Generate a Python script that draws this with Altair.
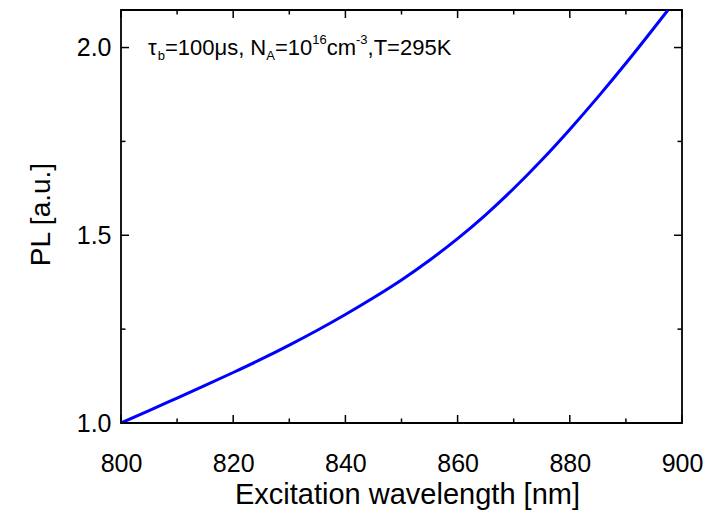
import altair as alt
import pandas as pd

# ---- data ----
wavelength = [800, 805, 810, 815, 820, 825, 830, 835, 840, 845, 850,
              855, 860, 865, 870, 875, 880, 885, 890, 895, 897.5]
pl_values = [1.000, 1.033, 1.0665, 1.100, 1.1345, 1.170, 1.2075, 1.247, 1.289, 1.3335, 1.381,
             1.4335, 1.491, 1.5545, 1.6245, 1.7005, 1.782, 1.868, 1.958, 2.052, 2.100]

x_major = [800, 820, 840, 860, 880, 900]
x_minor = [810, 830, 850, 870, 890]
y_major = [1.0, 1.5, 2.0]
y_minor = [1.25, 1.75]

x_title = "Excitation wavelength [nm]"
y_title = "PL [a.u.]"

annot_text = ["τ", "b", "=100μs, N", "A", "=10", "16", "cm", "-3", ",T=295K"]
annot_kind = ["main", "sub", "main", "sub", "main", "sup", "main", "sup", "main"]

# ---- layout ----
W, H = 561, 413
FONT = "Liberation Sans"
MAJ, MIN = 8, 4.5

xs = alt.Scale(domain=[800, 900], nice=False, zero=False)
ys = alt.Scale(domain=[1.0, 2.1], nice=False, zero=False)

line = alt.Chart(pd.DataFrame({"wl": wavelength, "pl": pl_values})).mark_line(
    color="#0000ff", strokeWidth=3, interpolate="monotone", clip=True
).encode(
    x=alt.X("wl:Q", scale=xs, axis=alt.Axis(
        values=x_major, format="d", title=x_title, ticks=False, tickSize=0,
        domain=False, grid=False, labelFlush=False, labelPadding=28, labelFontSize=25,
        labelFont=FONT, labelColor="black", titleFont=FONT, titleFontSize=29,
        titleFontWeight="normal", titleColor="black", titleBaseline="alphabetic",
        titleY=80, titleX=286)),
    y=alt.Y("pl:Q", scale=ys, axis=alt.Axis(
        values=y_major, format=".1f", title=y_title, ticks=False, tickSize=0,
        domain=False, grid=False, labelFlush=False, labelPadding=10, labelFontSize=25,
        labelBaseline="middle",
        labelFont=FONT, labelColor="black", titleFont=FONT, titleFontSize=28,
        titleFontWeight="normal", titleColor="black", titleBaseline="alphabetic",
        titleAngle=270, titleX=-72, titleY=204)),
)

layers = [line]


def xticks(vals, length):
    df = pd.DataFrame({"v": vals})
    base = alt.Chart(df).mark_rule(color="black", strokeWidth=1.5)
    enc = alt.X("v:Q", scale=xs, axis=None)
    bottom = base.encode(x=enc, y=alt.value(H), y2=alt.value(H - length))
    top = base.encode(x=enc, y=alt.value(0), y2=alt.value(length))
    return [bottom, top]


def yticks(vals, length):
    df = pd.DataFrame({"v": vals})
    base = alt.Chart(df).mark_rule(color="black", strokeWidth=1.5)
    enc = alt.Y("v:Q", scale=ys, axis=None)
    left = base.encode(y=enc, x=alt.value(0), x2=alt.value(length))
    right = base.encode(y=enc, x=alt.value(W), x2=alt.value(W - length))
    return [left, right]


layers += xticks(x_major, MAJ) + xticks(x_minor, MIN)
layers += yticks(y_major, MAJ) + yticks(y_minor, MIN)

# ---- annotation (rich text built from pieces) ----
EM = {"0": .556, "1": .556, "2": .556, "3": .556, "5": .556, "6": .556, "9": .556,
      "=": .584, "μ": .576, "s": .5, ",": .278, " ": .278, "N": .722, "A": .667,
      "b": .556, "c": .5, "m": .833, "-": .333, "T": .611, "K": .667, "τ": .44}
SIZE = {"main": 22, "sub": 13, "sup": 13}
BASE = {"main": 45, "sub": 50, "sup": 34}
cur = 27.0
one = pd.DataFrame({"a": [0]})
for txt, kind in zip(annot_text, annot_kind):
    layers.append(
        alt.Chart(one).mark_text(
            text=txt, align="left", baseline="alphabetic", font=FONT,
            fontSize=SIZE[kind], color="black"
        ).encode(x=alt.value(cur), y=alt.value(BASE[kind]))
    )
    cur += sum(EM.get(ch, .556) for ch in txt) * SIZE[kind]

chart = alt.layer(*layers).resolve_axis(
    x="independent", y="independent"
).properties(
    width=W, height=H,
    padding={"left": 121, "top": 10, "right": 30, "bottom": 98},
    autosize=alt.AutoSizeParams(type="none"),
    background="white",
).configure_view(stroke="black", strokeWidth=1.8)

chart.save("out.html", embed_options={"renderer": "svg", "actions": False})
